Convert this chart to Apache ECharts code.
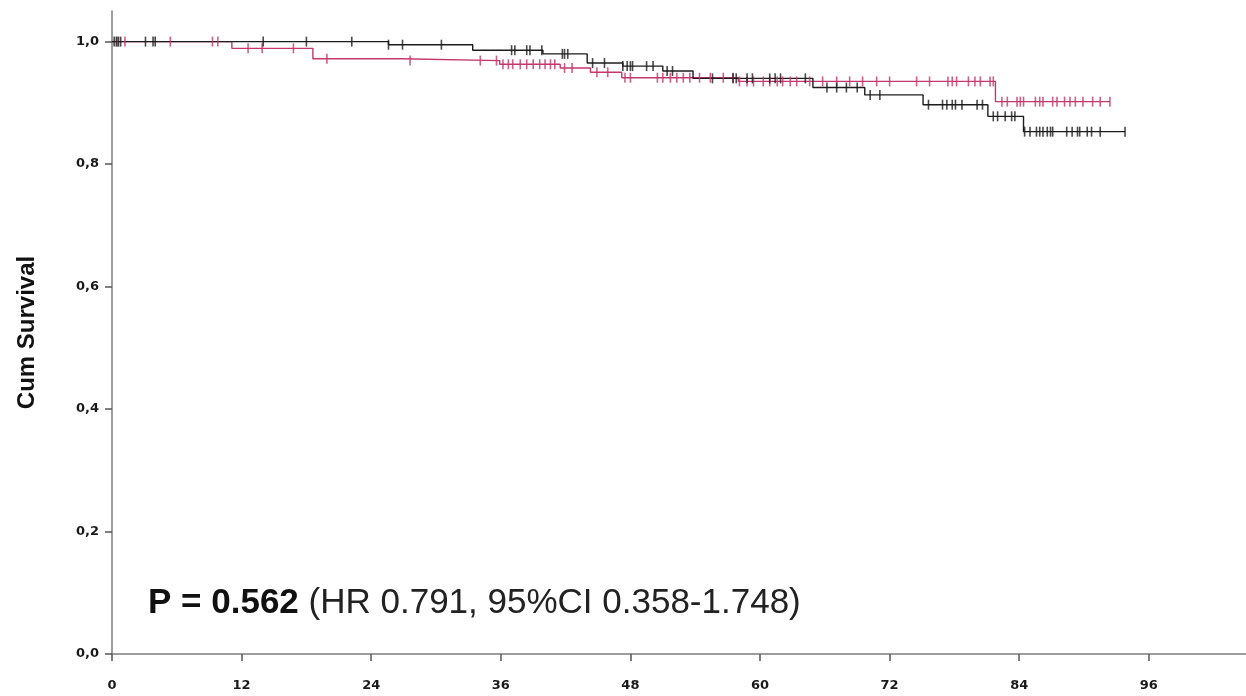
<!DOCTYPE html>
<html>
<head>
<meta charset="utf-8">
<script src="https://cdn.jsdelivr.net/npm/echarts@6/dist/echarts.min.js"></script>
<style>
html,body{margin:0;padding:0;background:#fff;}
#chart{width:1246px;height:696px;}
</style>
</head>
<body>
<div id="chart"></div>
<script>
// ---- Data ----
const xTicks = [0, 12, 24, 36, 48, 60, 72, 84, 96];
const yTicks = [0, 0.2, 0.4, 0.6, 0.8, 1.0];
const yAxisTitle = 'Cum Survival';
const annotationBold = 'P = 0.562';
const annotationNormal = '(HR 0.791, 95%CI 0.358-1.748)';

// Black group: event times and survival after each event
const blackTimes = [0, 25.6, 33.4, 39.9, 44.0, 47.3, 51.0, 53.8, 64.9, 69.7, 75.1, 81.1, 84.4];
const blackSurv  = [1.0, 0.995, 0.986, 0.980, 0.965, 0.960, 0.952, 0.940, 0.925, 0.913, 0.897, 0.878, 0.853];
const blackEnd = 93.8;
const blackCensor = [0.2, 0.4, 0.6, 0.8, 3.1, 3.8, 4.0, 14.0, 18.0, 22.2, 25.6, 26.9, 30.5, 37.0, 37.3, 38.4, 38.7, 39.8,
  41.7, 41.9, 42.2, 44.5, 45.6, 47.3, 47.7, 48.0, 48.2, 49.5, 50.1, 51.4, 51.9, 55.6, 57.5, 57.8, 58.8, 59.3,
  60.9, 61.4, 61.9, 64.2, 66.2, 67.1, 68.0, 69.0, 70.2, 71.1, 75.6, 76.9, 77.3, 77.8, 78.1, 78.7, 80.1, 80.6,
  81.6, 82.0, 82.7, 83.3, 83.6, 84.5, 85.0, 85.6, 85.9, 86.2, 86.6, 86.9, 87.1, 88.4, 88.9, 89.4, 89.6, 90.3,
  90.7, 91.5, 93.8];

// Pink group
const pinkTimes = [0, 11.1, 18.6, 26.8, 35.9, 41.5, 44.3, 47.2, 58.0, 81.8];
const pinkSurv  = [1.0, 0.989, 0.972, 0.969, 0.963, 0.957, 0.950, 0.941, 0.935, 0.902];
const pinkEnd = 92.4;
const pinkCensor = [0.5, 1.2, 5.4, 9.3, 9.8, 12.6, 13.9, 16.8, 19.9, 27.6, 34.1, 35.6, 36.2, 36.7, 37.1, 37.8, 38.4,
  39.0, 39.6, 40.1, 40.6, 41.0, 41.9, 42.6, 44.9, 45.9, 47.5, 48.0, 50.5, 51.0, 51.7, 52.3, 52.9, 53.5, 54.4,
  55.4, 56.6, 57.5, 58.1, 58.8, 59.4, 60.3, 60.9, 61.6, 62.1, 62.8, 63.4, 64.6, 65.8, 67.1, 68.3, 69.5, 70.8,
  72.0, 74.5, 75.7, 77.4, 77.8, 78.2, 79.3, 79.9, 80.4, 81.3, 81.6, 82.4, 82.9, 83.8, 84.1, 84.4, 85.5, 85.9,
  86.2, 87.1, 87.5, 88.2, 88.7, 89.2, 89.9, 90.8, 91.5, 92.4];

// ---- Helpers ----
function stepLine(times, surv, end) {
  const pts = times.map((t, i) => [t, surv[i]]);
  pts.push([end, surv[surv.length - 1]]);
  return pts;
}
function survAt(times, surv, t) {
  let v = surv[0];
  for (let i = 0; i < times.length; i++) { if (times[i] <= t) v = surv[i]; }
  return v;
}
function censorPts(cens, times, surv) {
  return cens.map(t => [t, survAt(times, surv, t)]);
}

const BLACK = '#1c1c1c';
const PINK = '#c4386c';
const AXIS = '#7d7d7d';

const chart = echarts.init(document.getElementById('chart'), null, {renderer: 'canvas'});
chart.setOption({
  animation: false,
  backgroundColor: '#ffffff',
  grid: {left: 112, right: 0, top: 11, bottom: 42, containLabel: false},
  xAxis: {
    type: 'value', min: 0, max: 105, interval: 12,
    axisLine: {show: true, lineStyle: {color: AXIS, width: 1.5}},
    axisTick: {show: true, length: 7, lineStyle: {color: '#555', width: 1.5}, customValues: xTicks},
    axisLabel: {customValues: xTicks, margin: 25, color: '#1a1a1a', fontFamily: 'DejaVu Sans', fontWeight: 'bold', fontSize: 13},
    splitLine: {show: false}
  },
  yAxis: {
    type: 'value', min: 0, max: 1.05, interval: 0.2,
    name: yAxisTitle, nameLocation: 'middle', nameRotate: 90, nameGap: 73,
    nameTextStyle: {color: '#111', fontFamily: 'Liberation Sans', fontWeight: 'bold', fontSize: 24},
    axisLine: {show: true, lineStyle: {color: AXIS, width: 1.5}},
    axisTick: {show: true, length: 7, lineStyle: {color: '#555', width: 1.5}, customValues: yTicks},
    axisLabel: {customValues: yTicks, margin: 13, color: '#1a1a1a', fontFamily: 'DejaVu Sans', fontWeight: 'bold', fontSize: 13,
      formatter: v => v.toFixed(1).replace('.', ',')},
    splitLine: {show: false}
  },
  graphic: [{
    type: 'text', left: 148, top: 586,
    style: {
      text: '{b|' + annotationBold + ' }{n|' + annotationNormal + '}',
      rich: {
        b: {fontFamily: 'Liberation Sans', fontWeight: 'bold', fontSize: 35, fill: '#111'},
        n: {fontFamily: 'Liberation Sans', fontSize: 35, fill: '#222'}
      }
    }
  }],
  series: [
    {type: 'line', step: 'end', data: stepLine(pinkTimes, pinkSurv, pinkEnd), showSymbol: false,
     lineStyle: {color: PINK, width: 1.4}, z: 2},
    {type: 'line', step: 'end', data: stepLine(blackTimes, blackSurv, blackEnd), showSymbol: false,
     lineStyle: {color: BLACK, width: 1.4}, z: 3},
    {type: 'scatter', data: censorPts(pinkCensor, pinkTimes, pinkSurv), symbol: 'rect', symbolSize: [1.6, 10],
     itemStyle: {color: PINK}, z: 4},
    {type: 'scatter', data: censorPts(blackCensor, blackTimes, blackSurv), symbol: 'rect', symbolSize: [1.6, 10],
     itemStyle: {color: BLACK}, z: 5}
  ]
});
</script>
</body>
</html>
